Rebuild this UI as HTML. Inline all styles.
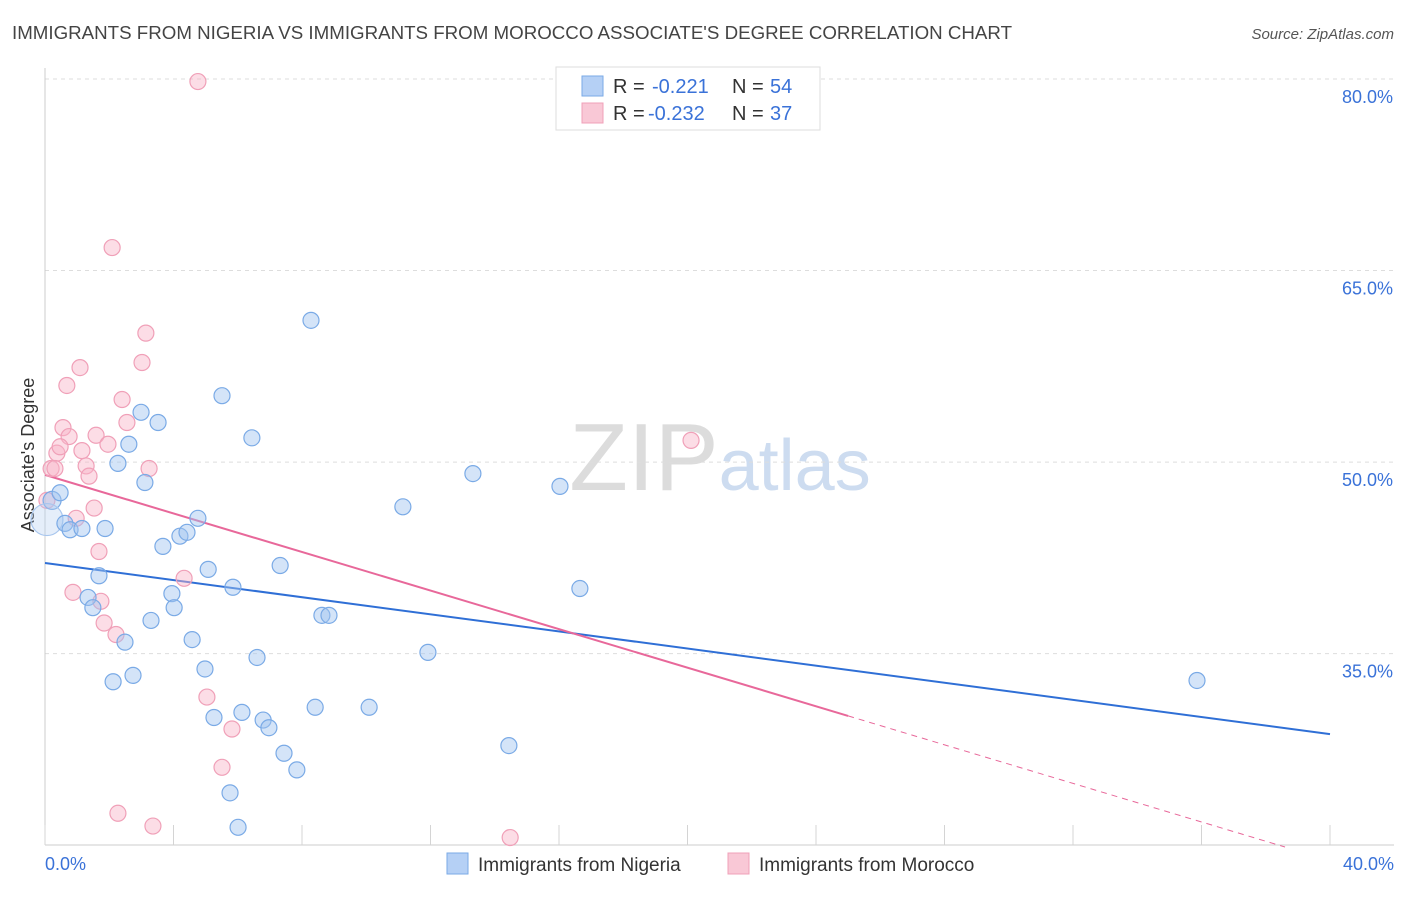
<!DOCTYPE html>
<html><head><meta charset="utf-8"><style>
body{margin:0;background:#fff;font-family:"Liberation Sans",sans-serif}
svg text{font-family:"Liberation Sans",sans-serif}
</style></head><body>
<svg id="chart" width="1406" height="892" xmlns="http://www.w3.org/2000/svg">
<text x="12" y="39" font-size="18" fill="#444" textLength="1000" lengthAdjust="spacingAndGlyphs">IMMIGRANTS FROM NIGERIA VS IMMIGRANTS FROM MOROCCO ASSOCIATE'S DEGREE CORRELATION CHART</text>
<text x="1394" y="39" font-size="15" fill="#555" text-anchor="end" font-style="italic">Source: ZipAtlas.com</text>
<text x="720" y="490" font-size="96" fill="#ddd" text-anchor="middle" font-family="Liberation Serif"><tspan fill="#dcdcdc">ZIP</tspan><tspan fill="#cddcf0" font-family="Liberation Sans" font-size="72">atlas</tspan></text>
<g id="grid"></g><g id="axes"></g>
<text transform="translate(34,455) rotate(-90)" font-size="18" fill="#333" text-anchor="middle">Associate's Degree</text>
<g id="trend"></g><g id="points"></g>
<g>
<rect x="556" y="67" width="264" height="63" fill="#fff" stroke="#ddd"/>
<rect x="582" y="76" width="21" height="20" fill="#b5d0f5" stroke="#7aaae6"/>
<text x="613" y="93" font-size="20" fill="#333">R =</text>
<text x="652" y="93" font-size="20" fill="#3a72d8">-0.221</text>
<text x="732" y="93" font-size="20" fill="#333">N =</text>
<text x="770" y="93" font-size="20" fill="#3a72d8">54</text>
<rect x="582" y="103" width="21" height="20" fill="#f9c8d6" stroke="#f0a0b8"/>
<text x="613" y="120" font-size="20" fill="#333">R =</text>
<text x="648" y="120" font-size="20" fill="#3a72d8">-0.232</text>
<text x="732" y="120" font-size="20" fill="#333">N =</text>
<text x="770" y="120" font-size="20" fill="#3a72d8">37</text>
</g>
<g>
<rect x="447" y="853" width="21" height="21" fill="#b5d0f5" stroke="#7aaae6"/>
<text x="478" y="871" font-size="19" fill="#333">Immigrants from Nigeria</text>
<rect x="728" y="853" width="21" height="21" fill="#f9c8d6" stroke="#f0a0b8"/>
<text x="759" y="871" font-size="19" fill="#333">Immigrants from Morocco</text>
</g>
</svg>
<script>
const yTicks=[35,50,65,80];
const xTickLabels=["0.0%","40.0%"];
const nigeriaX=[0.22,0.06,0.47,0.62,0.78,1.15,1.68,1.34,1.49,1.87,2.12,2.27,2.49,2.61,2.74,2.99,3.11,3.30,3.52,3.67,3.95,4.02,4.20,4.42,4.58,4.76,4.98,5.08,5.26,5.51,5.76,5.85,6.01,6.13,6.44,6.60,6.79,6.97,7.32,7.44,7.84,8.28,8.41,8.62,8.84,10.09,11.14,11.92,13.32,14.44,16.03,16.65,35.86];
const nigeriaY=[47.0,45.5,47.6,45.2,44.7,44.8,41.1,39.4,38.6,44.8,32.8,49.9,35.9,51.4,33.3,53.9,48.4,37.6,53.1,43.4,39.7,38.6,44.2,44.5,36.1,45.6,33.8,41.6,30.0,55.2,24.1,40.2,21.4,30.4,51.9,34.7,29.8,29.2,41.9,27.2,25.9,61.1,30.8,38.0,38.0,30.8,46.5,35.1,49.1,27.8,48.1,40.1,32.9];
const moroccoX=[4.76,2.09,3.14,3.02,1.09,0.68,2.40,0.56,0.75,1.59,2.55,1.96,0.37,1.15,0.47,0.19,0.31,1.28,1.37,3.24,0.97,1.53,1.68,0.87,1.74,1.84,2.21,4.33,5.04,5.82,5.51,2.27,3.36,14.48,20.11,0.06];
const moroccoY=[79.8,66.8,60.1,57.8,57.4,56.0,54.9,52.7,52.0,52.1,53.1,51.4,50.7,50.9,51.2,49.5,49.5,49.7,48.9,49.5,45.6,46.4,43.0,39.8,39.1,37.4,36.5,40.9,31.6,29.1,26.1,22.5,21.5,20.6,51.7,47.0];
const nigeriaTrend=[42.1,28.7];
const moroccoTrend=[49.0,18.8];
const moroccoSolidEnd=25;
const X=v=>45+v/40*1285, Y=v=>79+(80-v)*12.77;
const NS="http://www.w3.org/2000/svg";
function mk(p,t,a){const e=document.createElementNS(NS,t);for(const k in a)e.setAttribute(k,a[k]);p.appendChild(e);return e;}
const grid=document.getElementById('grid'),axes=document.getElementById('axes');
yTicks.forEach(v=>{
const l=mk(grid,'line',{x1:45,x2:1394,y1:Y(v),y2:Y(v),stroke:'#ddd','stroke-dasharray':'4,4'});


const t=mk(axes,'text',{x:1393,y:Y(v)+24,'font-size':18,fill:'#3a72d8','text-anchor':'end'});t.textContent=v.toFixed(1)+'%';


});
const ax=mk(axes,'line',{x1:45,x2:1394,y1:845,y2:845,stroke:'#ccc'});


const ay=mk(axes,'line',{x1:45,x2:45,y1:68,y2:845,stroke:'#ccc'});


for(let i=0;i<=10;i++){const t=mk(axes,'line',{x1:X(i*4),x2:X(i*4),y1:845,y2:825,stroke:'#d4d4d4'});

}
[[0,45,'start'],[1,1394,'end']].forEach(([i,x,a])=>{const t=mk(axes,'text',{x:x,y:870,'font-size':18,fill:'#3a72d8','text-anchor':a});t.textContent=xTickLabels[i];

});
const pts=document.getElementById('points');
moroccoX.forEach((x,i)=>{const c=mk(pts,'circle',{cx:X(x),cy:Y(moroccoY[i]),r:8,fill:'rgba(248,180,200,0.45)',stroke:'#f0a0b8','stroke-width':1.2});

});
nigeriaX.forEach((x,i)=>{const big=i==1;const c=mk(pts,'circle',{cx:X(x),cy:Y(nigeriaY[i]),r:big?16:(i==0?9:8),fill:big?'rgba(180,205,240,0.35)':'rgba(160,196,240,0.45)',stroke:big?'#a8c6ee':'#7aaae6','stroke-width':1.2});

});
const tr=document.getElementById('trend');
const nt=mk(tr,'line',{x1:X(0),y1:Y(nigeriaTrend[0]),x2:X(40),y2:Y(nigeriaTrend[1]),stroke:'#2f6fd6','stroke-width':2});


const mY=v=>moroccoTrend[0]+(moroccoTrend[1]-moroccoTrend[0])*v/40;
const ms=mk(tr,'line',{x1:X(0),y1:Y(mY(0)),x2:X(moroccoSolidEnd),y2:Y(mY(moroccoSolidEnd)),stroke:'#e8689a','stroke-width':2});


const md=mk(tr,'line',{x1:X(moroccoSolidEnd),y1:Y(mY(moroccoSolidEnd)),x2:X(38.6),y2:Y(mY(38.6)),stroke:'#e8689a','stroke-width':1,'stroke-dasharray':'6,5'});


</script>
</body></html>
